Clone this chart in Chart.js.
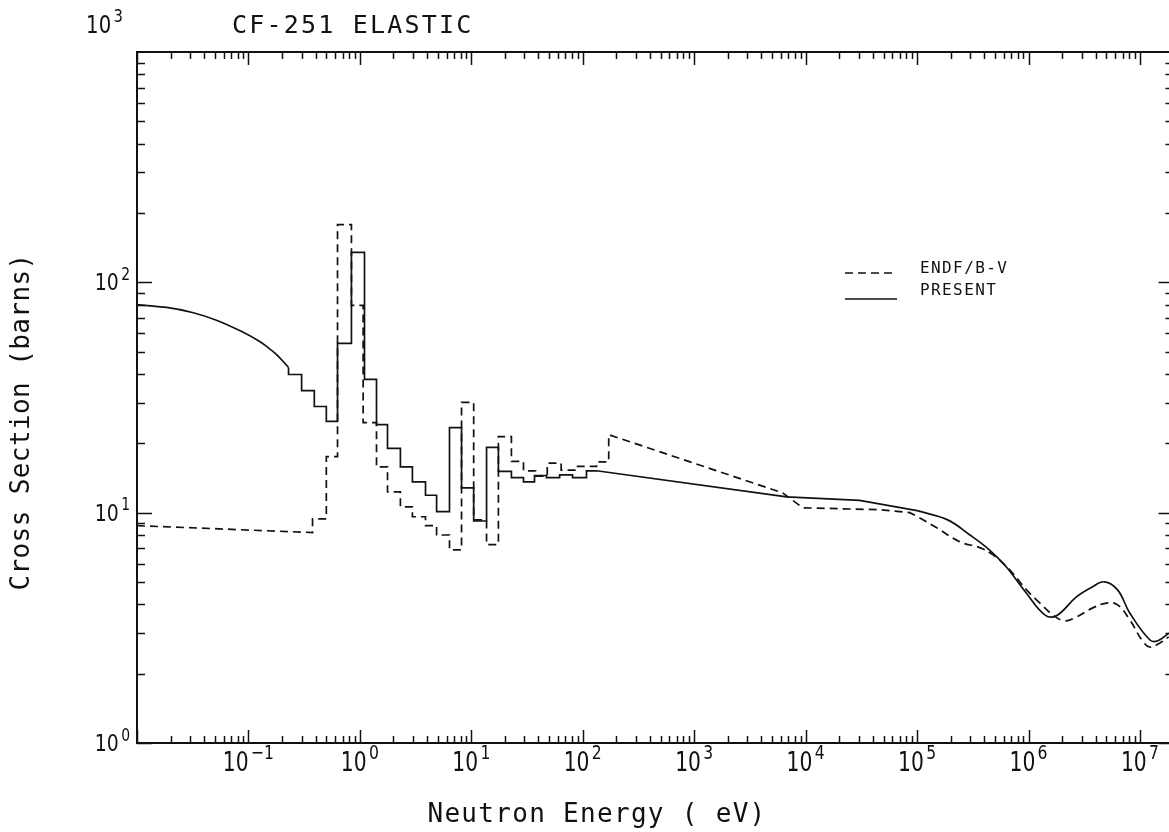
<!DOCTYPE html>
<html>
<head>
<meta charset="utf-8">
<title>CF-251 ELASTIC</title>
<script src="https://cdn.jsdelivr.net/npm/chart.js@4.4.1/dist/chart.umd.min.js"></script>
<style>
  html, body { margin: 0; padding: 0; background: #fff; overflow: hidden; }
  #wrap { width: 1180px; height: 832px; }
</style>
</head>
<body>
<div id="wrap"><canvas id="xs" width="1180" height="832"></canvas></div>
<script>
// energies in eV, cross sections in barns

// PRESENT evaluation
const presentThermE  = [0.01, 0.0184, 0.0314, 0.0516, 0.088, 0.126, 0.145, 0.178, 0.229];
const presentThermXS = [80, 77.8, 74, 68.5, 61, 55.4, 52.7, 48.7, 42.7];

const presentEdges = [0.229, 0.30, 0.39, 0.50, 0.63, 0.84, 1.10, 1.41, 1.77, 2.31, 2.96, 3.88,
                      4.88, 6.37, 8.17, 10.5, 13.7, 17.5, 22.9, 29.4, 36.9, 47.3, 62, 81, 108, 133];
const presentBinXS = [39.8, 33.9, 28.9, 24.9, 54.3, 135, 37.9, 24.1, 19.0, 15.8, 13.6,
                      11.9, 10.1, 23.4, 12.8, 9.2, 19.2, 15.1, 14.2, 13.6, 14.5, 14.2, 14.6, 14.2, 15.2];

const presentMidE  = [133, 6760, 30500, 100000];
const presentMidXS = [15.2, 11.7, 11.3, 10.2];

const presentFastE  = [1e5, 1.86e5, 2.96e5, 4.45e5, 6.3e5, 9.5e5, 1.4e6, 1.78e6, 2.69e6,
                       3.7e6, 4.8e6, 6.3e6, 8.1e6, 1.23e7, 1.45e7, 1.82e7];
const presentFastXS = [10.2, 9.33, 8.02, 6.9, 5.82, 4.49, 3.6, 3.57, 4.31,
                       4.75, 5.01, 4.62, 3.67, 2.8, 2.78, 3.0];

// ENDF/B-V
const endfThermE  = [0.01, 0.376];
const endfThermXS = [8.78, 8.2];

const endfEdges = [0.376, 0.50, 0.63, 0.84, 1.07, 1.41, 1.77, 2.31, 2.96, 3.88, 4.88, 6.37,
                   8.17, 10.5, 13.7, 17.5, 22.9, 29.4, 37.7, 48, 64, 85, 133, 171];
const endfBinXS = [9.4, 17.5, 178, 79.5, 24.6, 15.8, 12.3, 10.6, 9.6, 8.78, 8.0,
                   6.9, 30.1, 9.3, 7.26, 21.4, 16.7, 15.2, 14.4, 16.4, 15.3, 15.9, 16.6];

const endfMidE  = [171, 6200, 9400, 46000, 86000, 105000];
const endfMidXS = [21.8, 12.2, 10.5, 10.3, 10.0, 9.5];

const endfFastE  = [1.05e5, 1.5e5, 2.41e5, 3.65e5, 4.77e5, 6.78e5, 9.6e5, 1.26e6, 1.65e6, 2.11e6,
                    2.71e6, 3.77e6, 5.14e6, 6.3e6, 8.1e6, 1.04e7, 1.22e7, 1.51e7, 1.81e7];
const endfFastXS = [9.5, 8.6, 7.48, 7.05, 6.57, 5.65, 4.62, 4.06, 3.6, 3.39,
                    3.53, 3.86, 4.06, 3.98, 3.43, 2.8, 2.61, 2.72, 2.89];

// axis decades
const xDecades = [-1, 0, 1, 2, 3, 4, 5, 6, 7];
const yDecades = [0, 1, 2, 3];

const INK = '#111';
const DASH = [8, 5];

function pairs(es, vs) {
    return es.map((e, i) => ({ x: e, y: vs[i] }));
}

// histogram: each bin becomes a flat segment joined by vertical risers
function steps(edges, vals) {
    const pts = [];
    for (let i = 0; i < vals.length; i++) {
        pts.push({ x: edges[i], y: vals[i] });
        pts.push({ x: edges[i + 1], y: vals[i] });
    }
    return pts;
}

const lastThermal = { x: presentThermE[presentThermE.length - 1], y: presentThermXS[presentThermXS.length - 1] };

function line(data, dashed, smooth) {
    return {
        data: data,
        borderColor: INK,
        borderWidth: 1.7,
        borderDash: dashed ? DASH : [],
        pointRadius: 0,
        fill: false,
        tension: smooth ? 0.4 : 0,
    };
}

// "10" with a raised exponent, squeezed sideways like a plotter font
function drawPow(ctx, exp, x, baseline, align, size, squeeze) {
    const big = size + 'px "DejaVu Sans"';
    const small = Math.round(size * 0.76) + 'px "DejaVu Sans"';
    ctx.font = big;
    const w1 = ctx.measureText('10').width;
    ctx.font = small;
    const w2 = ctx.measureText(exp).width;
    const total = (w1 + 3 + w2) * squeeze;
    let left = x - total / 2;
    if (align === 'right') left = x - total;
    ctx.save();
    ctx.translate(left, baseline);
    ctx.scale(squeeze, 1);
    ctx.textAlign = 'left';
    ctx.textBaseline = 'alphabetic';
    ctx.font = big;
    ctx.fillText('10', 0, 0);
    ctx.font = small;
    ctx.fillText(exp, w1 + 3, -size * 0.45);
    ctx.restore();
}

function spaced(ctx, px) {
    if ('letterSpacing' in ctx) ctx.letterSpacing = px + 'px';
}

const framePlugin = {
    id: 'frame',
    afterDraw(chart) {
        const { ctx, chartArea: a, scales: { x, y } } = chart;
        ctx.save();
        ctx.strokeStyle = INK;
        ctx.fillStyle = INK;

        // box
        ctx.lineWidth = 2;
        ctx.strokeRect(a.left, a.top, a.right - a.left, a.bottom - a.top);

        // inward ticks
        ctx.lineWidth = 1.5;
        ctx.beginPath();
        for (let d = -2; d <= 7; d++) {
            for (let m = 1; m <= 9; m++) {
                const v = m * Math.pow(10, d);
                if (v < x.min || v > x.max) continue;
                const px = Math.round(x.getPixelForValue(v)) + 0.5;
                const len = m === 1 ? 13 : 7;
                ctx.moveTo(px, a.bottom); ctx.lineTo(px, a.bottom - len);
                ctx.moveTo(px, a.top); ctx.lineTo(px, a.top + len);
            }
        }
        for (let d = 0; d <= 2; d++) {
            for (let m = 1; m <= 9; m++) {
                const v = m * Math.pow(10, d);
                const py = Math.round(y.getPixelForValue(v)) + 0.5;
                const len = m === 1 ? 15 : 8;
                ctx.moveTo(a.left, py); ctx.lineTo(a.left + len, py);
                ctx.moveTo(a.right, py); ctx.lineTo(a.right - len, py);
            }
        }
        ctx.stroke();

        // tick labels
        xDecades.forEach(d => {
            drawPow(ctx, String(d).replace('-', '\u2212'), x.getPixelForValue(Math.pow(10, d)), 771, 'center', 26, 0.78);
        });
        yDecades.forEach(d => {
            const py = y.getPixelForValue(Math.pow(10, d));
            if (d === 3) drawPow(ctx, '3', 123, 33, 'right', 24, 0.82);
            else drawPow(ctx, String(d), 130, py + 8, 'right', 23, 0.82);
        });

        // titles
        ctx.textBaseline = 'alphabetic';
        ctx.font = '25px "DejaVu Sans Mono"';
        spaced(ctx, 2.2);
        ctx.textAlign = 'left';
        ctx.fillText('CF-251 ELASTIC', 232, 33);

        ctx.font = '26px "DejaVu Sans Mono"';
        spaced(ctx, 1.3);
        ctx.textAlign = 'center';
        ctx.fillText('Neutron Energy ( eV)', 597, 822);

        ctx.save();
        ctx.translate(22, 422);
        ctx.rotate(-Math.PI / 2);
        spaced(ctx, 0.4);
        ctx.textBaseline = 'middle';
        ctx.fillText('Cross Section (barns)', 0, 0);
        ctx.restore();

        // legend
        ctx.font = '16px "DejaVu Sans Mono"';
        spaced(ctx, 1.4);
        ctx.textAlign = 'left';
        ctx.fillText('ENDF/B-V', 920, 273);
        ctx.fillText('PRESENT', 920, 295);
        spaced(ctx, 0);
        ctx.lineWidth = 1.7;
        ctx.setLineDash(DASH);
        ctx.beginPath(); ctx.moveTo(845, 273); ctx.lineTo(897, 273); ctx.stroke();
        ctx.setLineDash([]);
        ctx.beginPath(); ctx.moveTo(845, 299); ctx.lineTo(897, 299); ctx.stroke();

        ctx.restore();
    }
};

const ctx = document.getElementById('xs').getContext('2d');

new Chart(ctx, {
    type: 'line',
    data: {
        datasets: [
            line(pairs(presentThermE, presentThermXS), false, true),
            line([lastThermal].concat(steps(presentEdges, presentBinXS), pairs(presentMidE, presentMidXS)), false, false),
            line(pairs(presentFastE, presentFastXS), false, true),
            line(pairs(endfThermE, endfThermXS).concat(steps(endfEdges, endfBinXS), pairs(endfMidE, endfMidXS)), true, false),
            line(pairs(endfFastE, endfFastXS), true, true),
        ],
    },
    options: {
        responsive: false,
        animation: false,
        layout: { padding: { left: 137, top: 52, right: 6.5, bottom: 89 } },
        plugins: { legend: { display: false }, tooltip: { enabled: false } },
        scales: {
            x: { type: 'logarithmic', min: 0.01, max: 2e7, display: false },
            y: { type: 'logarithmic', min: 1, max: 1000, display: false },
        },
    },
    plugins: [framePlugin],
});
</script>
</body>
</html>
